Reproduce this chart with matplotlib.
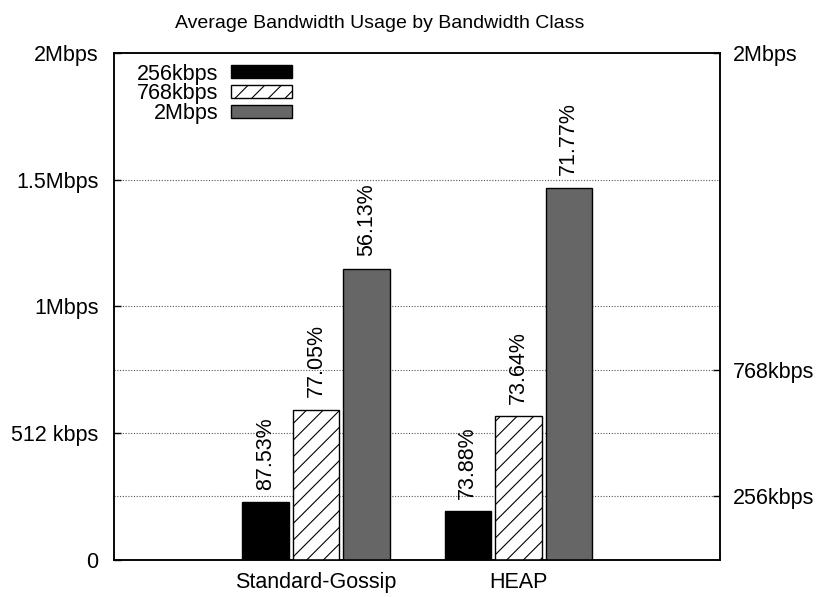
import numpy as np
import matplotlib.pyplot as plt
from matplotlib.patches import Patch

plt.rcParams["font.family"] = ["Liberation Sans", "DejaVu Sans"]
plt.rcParams["font.size"] = 15.5
plt.rcParams["hatch.linewidth"] = 0.8

# data (kbps)
groups = ["Standard-Gossip", "HEAP"]
classes = ["256kbps", "768kbps", "2Mbps"]
usage_256k = [231, 195]
usage_768k = [607, 580]
usage_2m = [1177, 1504]
pct_256k = ["87.53%", "73.88%"]
pct_768k = ["77.05%", "73.64%"]
pct_2m = ["56.13%", "71.77%"]

left_ticks = [0, 512, 1024, 1536, 2048]
left_labels = ["0", "512 kbps", "1Mbps", "1.5Mbps", "2Mbps"]
right_ticks = [256, 768, 2048]
right_labels = ["256kbps", "768kbps", "2Mbps"]

fig = plt.figure(figsize=(8.19, 5.97), dpi=100)
ax = fig.add_axes([0.1392, 0.0628, 0.7405, 0.8476])

x = np.arange(1, len(groups) + 1)
w = 0.23
step = 0.25
styles = [dict(color="black", edgecolor="black"),
          dict(color="white", edgecolor="black", hatch="//"),
          dict(color="#666666", edgecolor="black")]
series = [usage_256k, usage_768k, usage_2m]
pcts = [pct_256k, pct_768k, pct_2m]

for i, (vals, st, pc) in enumerate(zip(series, styles, pcts)):
    bars = ax.bar(x + (i - 1) * step, vals, w, linewidth=1.0, zorder=3, **st)
    for b, t in zip(bars, pc):
        ax.annotate(t, (b.get_x() + b.get_width() / 2, b.get_height()),
                    xytext=(0, 9), textcoords="offset points",
                    rotation=90, ha="center", va="bottom")

ax.set_xlim(0, 3)
ax.set_ylim(0, 2048)
ax.set_xticks(x)
ax.set_xticklabels(groups)
ax.tick_params(axis="x", length=0, pad=9)
ax.set_yticks(left_ticks)
ax.set_yticklabels(left_labels)
ax.tick_params(axis="y", direction="in", length=5, width=1, pad=11)

ax2 = ax.twinx()
ax2.set_ylim(0, 2048)
ax2.set_yticks(right_ticks)
ax2.set_yticklabels(right_labels)
ax2.tick_params(axis="y", direction="in", length=5, width=1, pad=9)

for yv in [256, 512, 768, 1024, 1536]:
    ax.axhline(yv, color="#555555", linestyle=(0, (1, 1.5)), linewidth=0.8, zorder=1)

for a in (ax, ax2):
    for s in a.spines.values():
        s.set_linewidth(1.1)

handles = [Patch(facecolor=st["color"], edgecolor="black", hatch=st.get("hatch"), linewidth=1.0)
           for st in styles]
ax.legend(handles, classes, loc="upper left", bbox_to_anchor=(0.013, 1.01),
          frameon=False, markerfirst=False, handlelength=2.8, handleheight=0.55,
          labelspacing=-0.05, handletextpad=0.6, borderaxespad=0.3)

fig.text(380 / 819, 1 - 24 / 597, "Average Bandwidth Usage by Bandwidth Class",
         ha="center", va="center", fontsize=14)

fig.savefig("out.png", dpi=100)
